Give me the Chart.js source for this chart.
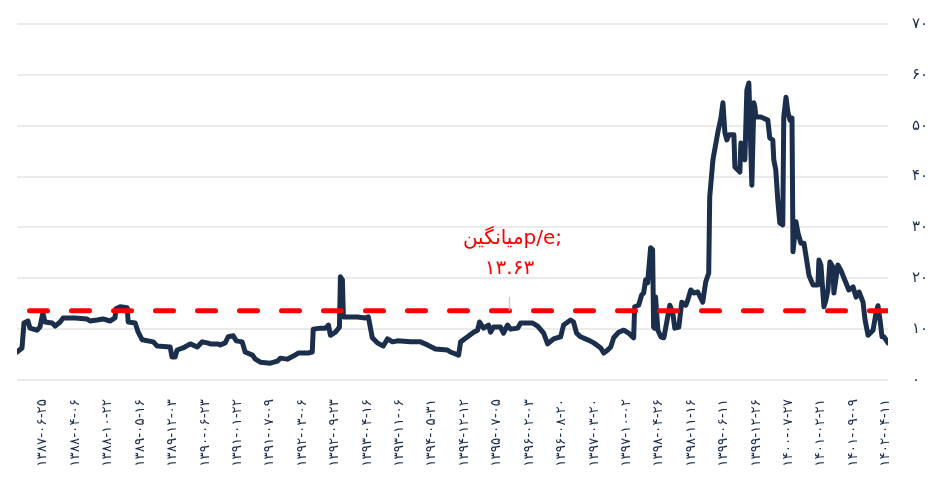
<!DOCTYPE html>
<html>
<head>
<meta charset="utf-8">
<script src="https://cdn.jsdelivr.net/npm/chart.js@4"></script>
<style>
  body { margin: 0; background: #fff; }
  #wrap { width: 930px; height: 488px; }
</style>
</head>
<body>
<div id="wrap"><canvas id="peChart"></canvas></div>
<script>
// برچسب تاریخ های محور افقی
const tickDates = ['۱۳۸۷-۰۶-۲۵','۱۳۸۸-۰۴-۰۶','۱۳۸۸-۱۰-۲۲','۱۳۸۹-۰۵-۱۶','۱۳۸۹-۱۲-۰۳','۱۳۹۰-۰۶-۲۳','۱۳۹۱-۰۱-۲۲','۱۳۹۱-۰۷-۰۹','۱۳۹۲-۰۳-۰۶',
  '۱۳۹۲-۰۹-۲۳','۱۳۹۳-۰۴-۱۶','۱۳۹۳-۱۱-۰۶','۱۳۹۴-۰۵-۳۱','۱۳۹۴-۱۲-۱۲','۱۳۹۵-۰۷-۰۵','۱۳۹۶-۰۲-۰۳','۱۳۹۶-۰۸-۲۰','۱۳۹۷-۰۳-۲۰',
  '۱۳۹۷-۱۰-۰۲','۱۳۹۸-۰۴-۲۶','۱۳۹۸-۱۱-۱۶','۱۳۹۹-۰۶-۱۱','۱۳۹۹-۱۲-۲۶','۱۴۰۰-۰۷-۲۷','۱۴۰۱-۰۲-۲۱','۱۴۰۱-۰۹-۰۹','۱۴۰۲-۰۴-۱۱'];
const firstTickDay = 104;   // روز معاملاتی اولین برچسب
const tickStep = 130;       // فاصله برچسب ها (روز معاملاتی)

// شماره روز معاملاتی و مقدار p/e
const dayIdx = [0,20,28,44,52,80,92,104,112,141,153,173,185,233,281,293,321,345,373,393,397,414,442,446,474,486,502,546,562,614,622,634,642,666,695,723,743,763,775,807,815,835,847,867,879,903,915,944,956,976,1016,1044,1056,1084,1108,1128,1168,1184,1188,1217,1237,1249,1257,1277,1293,1297,1305,1309,1365,1397,1409,1425,1445,1469,1486,1506,1526,1578,1618,1646,1678,1726,1738,1771,1779,1807,1831,1847,1855,1871,1891,1899,1911,1939,1951,1967,1979,2008,2020,2068,2088,2112,2128,2152,2180,2192,2220,2232,2244,2260,2289,2313,2341,2353,2369,2381,2393,2413,2433,2453,2473,2477,2493,2505,2513,2521,2529,2541,2549,2553,2557,2561,2570,2582,2594,2602,2618,2630,2638,2654,2666,2682,2690,2702,2714,2730,2750,2762,2774,2778,2791,2811,2823,2831,2839,2847,2855,2875,2879,2891,2899,2903,2911,2919,2927,2935,2947,2955,2959,2963,2983,3011,3019,3031,3035,3043,3051,3059,3071,3075,3084,3092,3100,3108,3112,3124,3132,3144,3156,3168,3176,3192,3212,3216,3224,3236,3244,3252,3260,3272,3276,3292,3304,3316,3336,3353,3365,3377,3393,3401,3413,3433,3445,3453,3461,3469,3477,3493];
const peValues = [5.5,6.3,11.2,11.6,10.2,9.8,10.4,13.2,11.4,11.2,10.6,11.4,12.2,12.2,12.0,11.6,11.8,12.0,11.6,12.2,14.0,14.4,14.2,11.4,11.2,9.4,7.9,7.5,6.7,6.5,4.5,4.5,5.9,6.3,7.1,6.5,7.5,7.3,7.1,7.1,6.9,7.3,8.5,8.7,7.7,7.5,5.5,4.9,4.1,3.5,3.3,3.7,4.3,4.1,4.7,5.3,5.3,5.5,10.0,10.2,10.2,10.8,8.8,9.4,10.4,20.3,19.7,12.4,12.4,12.2,12.4,8.3,7.3,6.7,8.1,7.5,7.7,7.5,7.5,6.9,6.1,5.9,5.5,4.9,7.5,8.5,9.4,9.8,11.4,10.2,10.8,9.4,10.4,10.4,9.2,10.8,10.0,10.2,11.2,11.2,10.6,9.2,7.1,8.1,8.5,10.8,11.8,11.4,9.2,8.5,7.9,7.3,6.3,5.3,5.9,6.5,8.3,9.4,9.8,9.2,8.3,14.4,14.7,16.7,17.1,19.7,19.1,26.0,25.6,10.4,10.2,16.3,9.8,8.5,8.3,10.4,14.7,13.2,10.2,10.4,15.3,14.7,15.7,17.7,17.1,17.3,15.3,19.3,21.0,36.0,43.3,48.8,51.5,54.5,48.6,47.2,48.2,48.2,41.9,41.3,40.9,46.6,44.6,43.3,57.0,58.4,38.3,54.5,53.7,51.7,51.7,51.1,47.6,47.2,43.3,41.3,35.4,30.9,30.5,51.7,55.6,52.5,51.1,51.5,25.2,31.1,28.9,26.9,26.9,23.2,20.6,18.7,18.7,23.6,22.6,14.4,15.7,17.7,23.2,22.2,17.1,22.6,21.6,20.1,17.7,18.3,16.3,17.3,15.3,11.8,8.8,9.8,13.2,14.6,11.8,8.5,8.5,7.3];

const peAverage = 13.63;
const annotDay = 1975;
const annotLines = ['میانگینp/e;', '۱۳.۶۳'];

const faDigits = (s) => String(s).replace(/\d/g, d => '۰۱۲۳۴۵۶۷۸۹'[d]);

// نوشته میانگین روی نمودار
const avgLabel = {
    id: 'avgLabel',
    afterDraw(chart) {
        const c = chart.ctx;
        const px = chart.scales.x.getPixelForValue(annotDay);
        const py = chart.scales.y.getPixelForValue(peAverage);
        c.save();
        c.strokeStyle = '#cccccc';
        c.lineWidth = 1.5;
        c.beginPath();
        c.moveTo(px, py - 14);
        c.lineTo(px, py);
        c.stroke();
        c.fillStyle = '#ff0000';
        c.font = '20px "DejaVu Sans"';
        c.textAlign = 'center';
        c.textBaseline = 'middle';
        c.fillText(annotLines[0], px + 3, py - 72);
        c.fillText(annotLines[1], px, py - 42);
        c.restore();
    }
};

const ctx = document.getElementById('peChart').getContext('2d');
const peChart = new Chart(ctx, {
    type: 'line',
    data: {
        datasets: [{
            label: 'میانگین',
            data: [{x: dayIdx[0], y: peAverage}, {x: dayIdx[dayIdx.length - 1], y: peAverage}],
            borderColor: '#ff0000',
            borderWidth: 5,
            borderDash: [18, 24],
            borderDashOffset: 29.5,
            borderCapStyle: 'round',
            pointRadius: 0
        }, {
            label: 'p/e',
            data: dayIdx.map((d, i) => ({x: d, y: peValues[i]})),
            borderColor: '#1b2e4b',
            borderWidth: 5,
            borderJoinStyle: 'round',
            borderCapStyle: 'round',
            pointRadius: 0,
            tension: 0
        }]
    },
    options: {
        responsive: true,
        maintainAspectRatio: false,
        animation: false,
        layout: { padding: { left: 17, top: 24, right: 0, bottom: 0 } },
        plugins: { legend: { display: false }, tooltip: { enabled: false } },
        scales: {
            x: {
                type: 'linear',
                min: dayIdx[0],
                max: dayIdx[dayIdx.length - 1],
                grid: { display: false },
                border: { display: false },
                afterBuildTicks: (scale) => {
                    scale.ticks = tickDates.map((_, i) => ({ value: firstTickDay + i * tickStep }));
                },
                afterFit: (scale) => { scale.height = 108; },
                ticks: {
                    autoSkip: false,
                    minRotation: 90,
                    maxRotation: 90,
                    padding: 11,
                    color: '#1b2e4b',
                    font: { family: 'DejaVu Sans', size: 13.5 },
                    callback: (v) => tickDates[Math.round((v - firstTickDay) / tickStep)]
                }
            },
            y: {
                position: 'right',
                min: 0,
                max: 70,
                grid: { color: '#ebebeb', lineWidth: 2, drawTicks: false },
                border: { display: false },
                afterFit: (scale) => {
                    scale.width = 42;
                    scale.paddingTop = 8;
                    scale.paddingBottom = 8;
                },
                ticks: {
                    stepSize: 10,
                    padding: 24,
                    color: '#1b2e4b',
                    font: { family: 'DejaVu Sans', size: 15 },
                    callback: (v) => faDigits(v)
                }
            }
        }
    },
    plugins: [avgLabel]
});
</script>
</body>
</html>
